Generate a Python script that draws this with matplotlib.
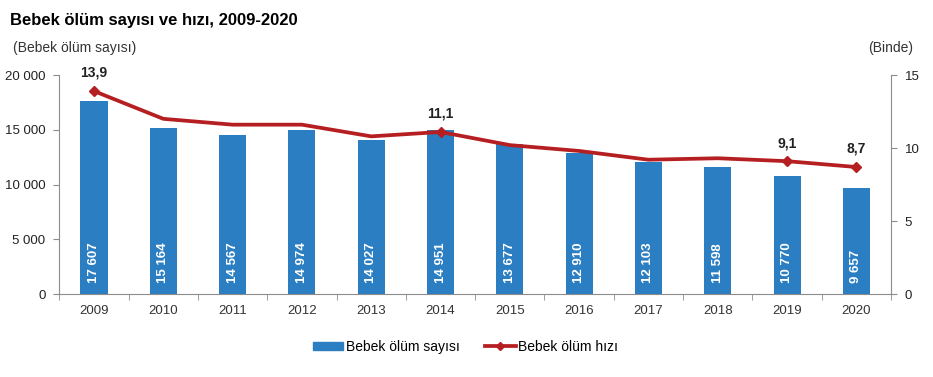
import matplotlib
matplotlib.use('Agg')
from matplotlib import pyplot as plt
from matplotlib.lines import Line2D
from matplotlib.patches import Patch
import numpy as np

# veriler
years = ['2009', '2010', '2011', '2012', '2013', '2014',
         '2015', '2016', '2017', '2018', '2019', '2020']
deaths = [17607, 15164, 14567, 14974, 14027, 14951,
          13677, 12910, 12103, 11598, 10770, 9657]
rate = [13.9, 12.0, 11.6, 11.6, 10.8, 11.1, 10.2, 9.8, 9.2, 9.3, 9.1, 8.7]
marked = ['2009', '2014', '2019', '2020']   # etiketli noktalar

BAR_COLOR = '#2B7EC2'
LINE_COLOR = '#B51F22'
GRAY = '#8C8C8C'

plt.rcParams['font.family'] = ['Liberation Sans', 'DejaVu Sans']
plt.rcParams['font.size'] = 9

fig = plt.figure(figsize=(9.33, 3.77), dpi=100)
ax = fig.add_axes([0.0636, 0.220, 0.8914, 0.581])
ax2 = ax.twinx()

x = np.arange(len(years))
ax.bar(x, deaths, width=0.39, color=BAR_COLOR, zorder=2)
for xi, v in zip(x, deaths):
    s = f'{v:,}'.replace(',', ' ')
    ax.annotate(s, (xi, 0), xytext=(0, 8), textcoords='offset points',
                rotation=90, ha='center', va='bottom', color='white',
                fontsize=9.5, fontweight='bold')

ax2.plot(x, rate, color=LINE_COLOR, lw=2.7, zorder=3)
mi = [years.index(y) for y in marked]
ax2.plot(x[mi], [rate[i] for i in mi], ls='none', marker='D',
         ms=5.5, color=LINE_COLOR, zorder=4)
for i in mi:
    ax2.annotate(f'{rate[i]:.1f}'.replace('.', ','), (x[i], rate[i]),
                 xytext=(0, 8), textcoords='offset points', ha='center',
                 va='bottom', fontsize=10, fontweight='bold', color='#222222')

ax.set_xlim(-0.5, len(years) - 0.5)
ax.set_ylim(0, 20000)
ax2.set_ylim(0, 15)
ax.set_yticks([0, 5000, 10000, 15000, 20000])
ax.set_yticklabels(['0', '5 000', '10 000', '15 000', '20 000'])
ax2.set_yticks([0, 5, 10, 15])

ax.set_xticks(x)
ax.set_xticklabels(years)
ax.set_xticks(np.arange(-0.5, len(years) + 0.5, 1), minor=True)
ax.tick_params(axis='x', which='major', length=0, pad=8, labelsize=9.5,
               colors='#333333')
ax.tick_params(axis='x', which='minor', length=4, color=GRAY)

for a in (ax, ax2):
    a.spines['top'].set_visible(False)
    for sp in ('left', 'right', 'bottom'):
        a.spines[sp].set_color(GRAY)
    a.tick_params(axis='y', length=4, color=GRAY, labelsize=9.5,
                  labelcolor='#222222', pad=6)
ax.spines['right'].set_visible(False)
ax2.spines['left'].set_visible(False)
ax2.spines['bottom'].set_visible(False)

fig.text(0.011, 0.945, 'Bebek ölüm sayısı ve hızı, 2009-2020',
         fontsize=12, fontweight='bold', va='center')
fig.text(0.014, 0.872, '(Bebek ölüm sayısı)', fontsize=10, va='center',
         color='#333333')
fig.text(0.930, 0.872, '(Binde)', fontsize=10, va='center', color='#333333')

handles = [Patch(color=BAR_COLOR),
           Line2D([], [], color=LINE_COLOR, lw=2.7, marker='D', ms=4)]
fig.legend(handles, ['Bebek ölüm sayısı', 'Bebek ölüm hızı'],
           loc='center', bbox_to_anchor=(0.499, 0.080), ncol=2, frameon=False,
           fontsize=10, handlelength=2.2, handleheight=0.5,
           handletextpad=0.2, columnspacing=1.8)

fig.savefig('out.png', dpi=100)
